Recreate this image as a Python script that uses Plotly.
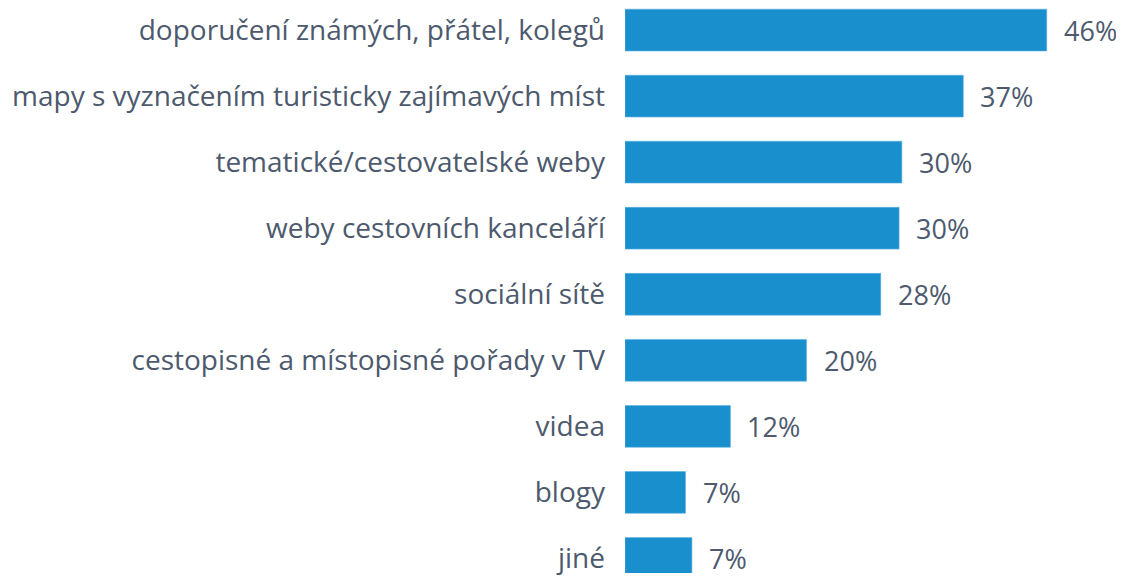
import plotly.graph_objects as go

categories = [
    "doporučení známých, přátel, kolegů",
    "mapy s vyznačením turisticky zajímavých míst",
    "tematické/cestovatelské weby",
    "weby cestovních kanceláří",
    "sociální sítě",
    "cestopisné a místopisné pořady v TV",
    "videa",
    "blogy",
    "jiné",
]
values = [46.0, 36.9, 30.2, 29.9, 27.9, 19.8, 11.5, 6.6, 7.3]
labels = ["46%", "37%", "30%", "30%", "28%", "20%", "12%", "7%", "7%"]

TEXT = "#4d5a6e"
BAR = "#1a8fce"
FONT = "Open Sans"

fig = go.Figure()
fig.add_trace(go.Bar(
    x=values,
    y=categories,
    orientation="h",
    marker=dict(color=BAR, line=dict(color="#5fb3e3", width=0.6)),
    hoverinfo="skip",
))

# value labels just right of each bar
for cat, val, lab in zip(categories, values, labels):
    fig.add_annotation(
        x=val, y=cat, text=lab, showarrow=False,
        xanchor="left", xshift=15,
        font=dict(family=FONT, size=27, color=TEXT),
    )

# page body has an 8px margin, so the figure is 8px smaller each way
fig.update_layout(
    width=1116,
    height=568,
    margin=dict(l=617, r=0, t=0, b=0),
    paper_bgcolor="white",
    plot_bgcolor="white",
    showlegend=False,
    bargap=0.367,
    font=dict(family=FONT, size=28, color=TEXT),
)
fig.update_xaxes(range=[0, 54.43], visible=False, showgrid=False, zeroline=False)
fig.update_yaxes(
    type="category",
    range=[8.22, -0.334],
    showgrid=False,
    zeroline=False,
    showline=False,
    ticks="",
    ticklabelstandoff=19,
    tickfont=dict(family=FONT, size=28, color=TEXT),
)

fig.write_html("out.html")
